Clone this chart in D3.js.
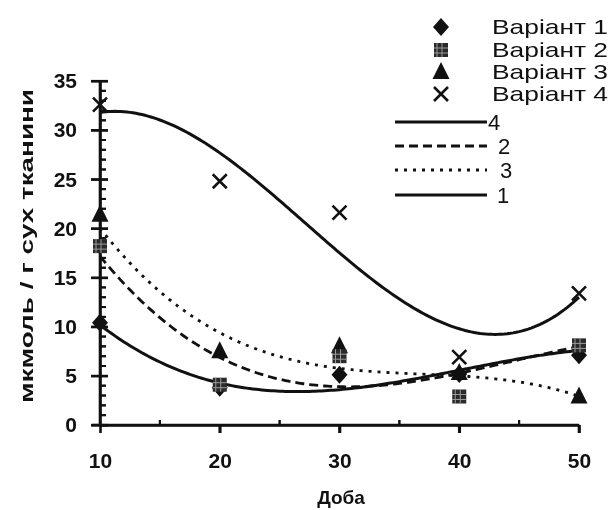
<!DOCTYPE html>
<html>
<head>
<meta charset="utf-8">
<script src="https://cdn.jsdelivr.net/npm/d3@7"></script>
<style>
  html, body { margin: 0; padding: 0; background: #fff; }
  #wrap { position: relative; width: 612px; height: 510px; }
  #axes, #chart { position: absolute; left: 0; top: 0; display: block; }
</style>
</head>
<body>
<div id="wrap">
<canvas id="axes" width="612" height="510"></canvas>
<svg id="chart" width="612" height="510"></svg>
</div>
<script>
// ---- data ----
const days = [10, 20, 30, 40, 50];
const variant1 = [10.4, 3.8, 5.1, 5.2, 7.1];
const variant2 = [18.2, 4.1, 7.0, 2.9, 8.1];
const variant3 = [21.4, 7.5, 8.0, 5.3, 2.9];
const variant4 = [32.6, 24.8, 21.6, 6.9, 13.4];
// trend lines (at the same days)
const trend1 = [10.2, 4.2, 3.7, 5.5, 7.6];
const trend2 = [17.2, 6.8, 4.0, 5.2, 8.0];
const trend3 = [20.0, 9.5, 5.6, 5.1, 2.9];
const trend4 = [31.8, 27.7, 17.5, 9.8, 13.0];
const xTicks = [10, 20, 30, 40, 50];
const yTicks = [0, 5, 10, 15, 20, 25, 30, 35];
const seriesNames = ["Варіант 1", "Варіант 2", "Варіант 3", "Варіант 4"];
const trendNames = ["4", "2", "3", "1"];
const yTitle = "мкмоль / г сух  тканини";
const xTitle = "Доба";

const svg = d3.select("#chart");
const x = d3.scaleLinear().domain([10, 50]).range([100, 579]);
const y = d3.scaleLinear().domain([0, 35]).range([425, 81]);

const ink = "#111";
const font = "Liberation Sans, Arial, sans-serif";
const yMinor = d3.range(1, 35).filter(v => v % 5 !== 0);
const xMinor = [15, 25, 35, 45];

// ---- axis strokes on a canvas layer beneath the SVG ----
const ctx = document.getElementById("axes").getContext("2d");
ctx.fillStyle = "#fff";
ctx.fillRect(0, 0, 612, 510);
ctx.strokeStyle = ink;
ctx.lineCap = "butt";
function seg(x1, y1, x2, y2, w) {
  ctx.lineWidth = w;
  ctx.beginPath(); ctx.moveTo(x1, y1); ctx.lineTo(x2, y2); ctx.stroke();
}
seg(x(10), y(0) + 1.3, x(10), y(35), 2.6);
seg(x(10) - 8, y(0), x(50), y(0), 2.6);
yTicks.forEach(d => seg(x(10) - 9, y(d), x(10) + 8, y(d), 2.2));
yMinor.forEach(d => seg(x(10), y(d), x(10) + 6, y(d), 2));
xTicks.slice(1).forEach(d => seg(x(d), y(0), x(d), y(0) + 8, 2.6));
xMinor.forEach(d => seg(x(d), y(0), x(d), y(0) - 5, 2));

// axis titles
svg.append("text").attr("transform", `translate(33,${246}) rotate(-90)`)
  .attr("text-anchor", "middle").attr("font-family", font).attr("font-weight", "bold").attr("font-size", 19)
  .attr("textLength", 314).attr("lengthAdjust", "spacingAndGlyphs")
  .attr("fill", ink).text(yTitle);
svg.append("text").attr("x", 341).attr("y", 504).attr("text-anchor", "middle")
  .attr("font-family", font).attr("font-weight", "bold").attr("font-size", 19)
  .attr("fill", ink).text(xTitle);

// ---- axes (d3 axis generators) ----
const yAxisG = svg.append("g").attr("transform", `translate(${x(10)},0)`);
yAxisG.call(d3.axisLeft(y).tickValues(yTicks).tickSizeInner(9).tickSizeOuter(0)
  .tickFormat(d3.format("d")).tickPadding(14));
yAxisG.selectAll(".tick text").attr("font-family", font).attr("font-weight", "bold")
  .attr("font-size", 21).attr("fill", ink);
yAxisG.selectAll(".tick line").attr("x1", 8).attr("stroke", ink).attr("stroke-width", 2.2);
yAxisG.select(".domain").attr("stroke", ink).attr("stroke-width", 2.6);
yAxisG.selectAll(".ymin").data(yMinor).join("path").attr("class", "ymin")
  .attr("d", d => `M0,${y(d)}H6`).attr("stroke", ink).attr("stroke-width", 2).attr("fill", "none");

const xAxisG = svg.append("g").attr("transform", `translate(0,${y(0)})`);
xAxisG.call(d3.axisBottom(x).tickValues(xTicks).tickSizeInner(8).tickSizeOuter(0)
  .tickFormat(d3.format("d")).tickPadding(20));
xAxisG.selectAll(".tick text").attr("font-family", font).attr("font-weight", "bold")
  .attr("font-size", 21).attr("fill", ink);
xAxisG.selectAll(".tick line").attr("stroke", ink).attr("stroke-width", 2.6);
xAxisG.select(".domain").attr("stroke", ink).attr("stroke-width", 2.6);
xAxisG.selectAll(".xmin").data(xMinor).join("path").attr("class", "xmin")
  .attr("d", d => `M${x(d)},0V-5`).attr("stroke", ink).attr("stroke-width", 2).attr("fill", "none");

// ---- cubic least-squares trend ----
function cubicFit(xs, ys) {
  const u = xs.map(v => (v - 30) / 10);
  const n = 4;
  const A = Array.from({length: n}, () => new Array(n + 1).fill(0));
  u.forEach((ui, k) => {
    for (let i = 0; i < n; i++) {
      for (let j = 0; j < n; j++) A[i][j] += Math.pow(ui, i + j);
      A[i][n] += Math.pow(ui, i) * ys[k];
    }
  });
  for (let i = 0; i < n; i++) {
    let p = i;
    for (let r = i + 1; r < n; r++) if (Math.abs(A[r][i]) > Math.abs(A[p][i])) p = r;
    [A[i], A[p]] = [A[p], A[i]];
    for (let r = 0; r < n; r++) {
      if (r === i) continue;
      const f = A[r][i] / A[i][i];
      for (let c = i; c <= n; c++) A[r][c] -= f * A[i][c];
    }
  }
  const coef = A.map((row, i) => row[n] / row[i]);
  return v => { const t = (v - 30) / 10; return coef[0] + coef[1] * t + coef[2] * t * t + coef[3] * t * t * t; };
}

const trends = [
  {vals: trend4, dash: null, w: 3},
  {vals: trend2, dash: "9,5", w: 2.8},
  {vals: trend3, dash: "3,6", w: 2.8},
  {vals: trend1, dash: null, w: 3}
];
const lineGen = d3.line().x(d => x(d[0])).y(d => y(d[1]));
const samples = d3.range(10, 50.001, 0.25);
trends.forEach(t => {
  const f = cubicFit(days, t.vals);
  svg.append("path").datum(samples.map(s => [s, f(s)])).attr("d", lineGen)
    .attr("fill", "none").attr("stroke", ink).attr("stroke-width", t.w)
    .attr("stroke-dasharray", t.dash);
});

// ---- markers ----
function drawMarker(g, type, cx, cy) {
  if (type === 0) {
    g.append("path").attr("d", `M${cx},${cy - 9}L${cx + 8},${cy}L${cx},${cy + 9}L${cx - 8},${cy}Z`).attr("fill", ink);
  } else if (type === 1) {
    g.append("rect").attr("x", cx - 7).attr("y", cy - 7).attr("width", 14).attr("height", 14)
      .attr("fill", "#2a2a2a");
    g.append("path").attr("d", `M${cx - 4},${cy - 7}V${cy + 7}M${cx + 1},${cy - 7}V${cy + 7}M${cx - 7},${cy - 2}H${cx + 7}M${cx - 7},${cy + 3}H${cx + 7}`)
      .attr("stroke", "#9a9a9a").attr("stroke-width", 1).attr("fill", "none");
  } else if (type === 2) {
    g.append("path").attr("d", `M${cx},${cy - 10}L${cx + 8.5},${cy + 7}L${cx - 8.5},${cy + 7}Z`).attr("fill", ink);
  } else {
    g.append("path").attr("d", `M${cx - 7},${cy - 7}L${cx + 7},${cy + 7}M${cx + 7},${cy - 7}L${cx - 7},${cy + 7}`)
      .attr("stroke", ink).attr("stroke-width", 2.6).attr("fill", "none");
  }
}
const markerG = svg.append("g");
const order = [[variant3, 2], [variant1, 0], [variant2, 1], [variant4, 3]];
order.forEach(([vals, type]) => {
  vals.forEach((v, i) => drawMarker(markerG, type, x(days[i]), y(v)));
});

// ---- legend ----
const legG = svg.append("g");
const legRows = [27, 50, 72, 94];
seriesNames.forEach((name, i) => {
  drawMarker(legG, i, 441, legRows[i]);
  legG.append("text").attr("x", 492).attr("y", legRows[i] + 7).attr("font-family", font)
    .attr("font-size", 21).attr("textLength", 116).attr("lengthAdjust", "spacingAndGlyphs")
    .attr("fill", ink).text(name);
});
const lineRows = [122, 146, 170, 195];
const labelX = [488, 498, 500, 497];
trendNames.forEach((nm, i) => {
  legG.append("path").attr("d", `M395,${lineRows[i]}H487`)
    .attr("stroke", ink).attr("stroke-width", trends[i].w).attr("stroke-dasharray", trends[i].dash)
    .attr("fill", "none");
  legG.append("text").attr("x", labelX[i]).attr("y", lineRows[i] + 8).attr("font-family", font)
    .attr("font-size", 22).attr("fill", ink).text(nm);
});
</script>
</body>
</html>
